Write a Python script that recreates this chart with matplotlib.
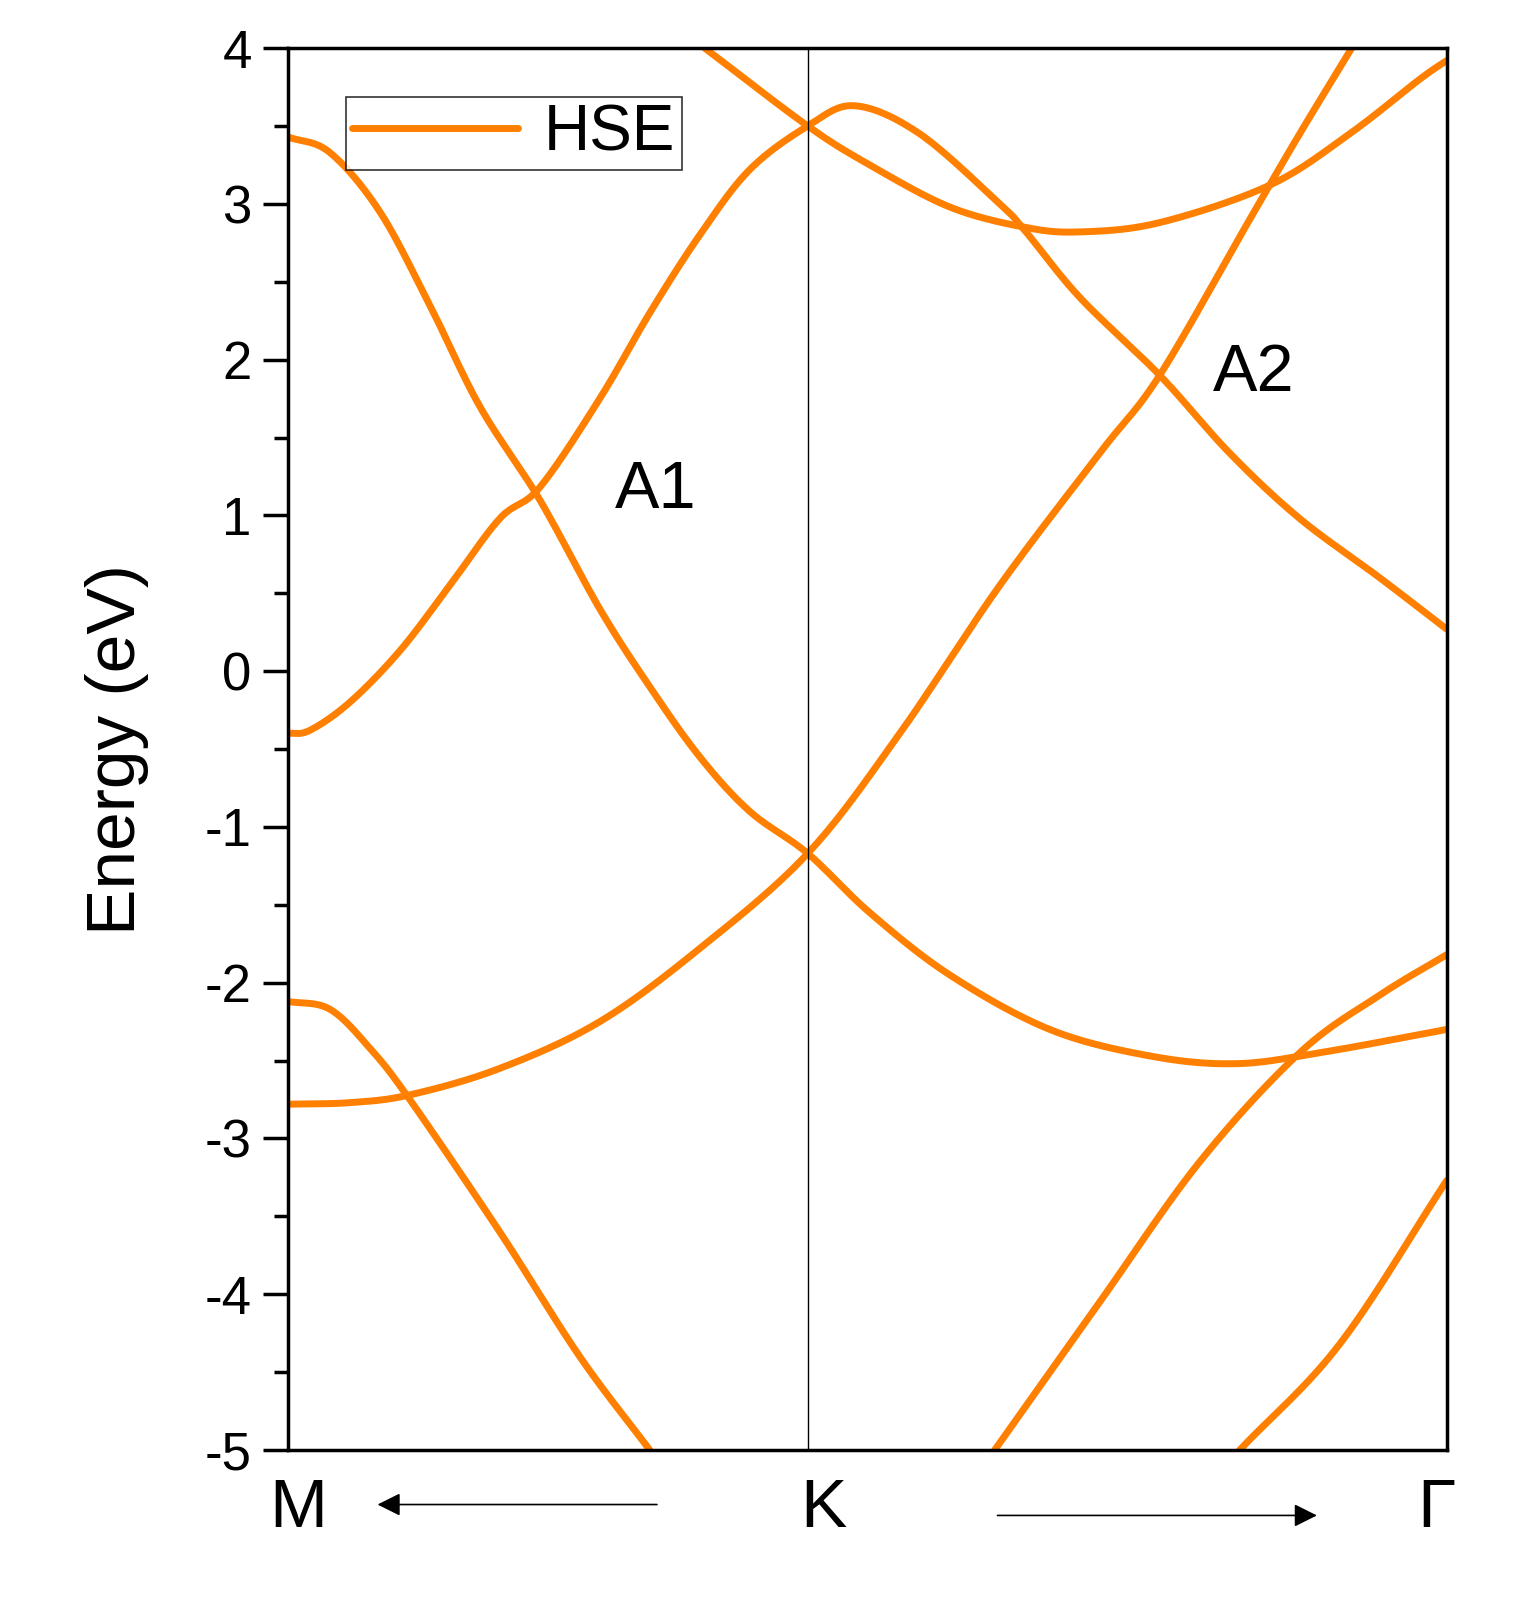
import matplotlib
matplotlib.use("Agg")
import matplotlib.pyplot as plt
import numpy as np

plt.rcParams['font.family'] = ['Liberation Sans', 'DejaVu Sans']
plt.rcParams['axes.unicode_minus'] = False

# k-path positions (pixel-derived: M=0, K=1, Gamma=2.229)
def k(px):
    return (np.array(px) - 288) / 520.0

bands = [
    (k([288, 310, 350, 400, 450, 500, 540, 600, 650, 700, 750, 808, 855, 920, 1000, 1025, 1080, 1160, 1230, 1300, 1380, 1447]),
     [-0.40, -0.38, -0.2, 0.13, 0.55, 0.98, 1.18, 1.75, 2.3, 2.8, 3.22, 3.5, 3.63, 3.45, 3.0, 2.83, 2.4, 1.9, 1.4, 0.98, 0.6, 0.27]),
    (k([288, 330, 380, 430, 480, 540, 600, 650, 700, 750, 808, 870, 950, 1050, 1150, 1235, 1320, 1447]),
     [3.43, 3.33, 2.95, 2.35, 1.7, 1.1, 0.4, -0.1, -0.55, -0.9, -1.17, -1.55, -1.95, -2.3, -2.47, -2.52, -2.45, -2.3]),
    (k([288, 350, 410, 500, 600, 700, 808, 900, 1000, 1100, 1160, 1250, 1300, 1352]),
     [-2.78, -2.77, -2.72, -2.55, -2.25, -1.78, -1.17, -0.4, 0.55, 1.4, 1.9, 2.9, 3.45, 4.0]),
    (k([705, 808, 870, 950, 1025, 1080, 1160, 1270, 1350, 1420, 1447]),
     [4.0, 3.5, 3.25, 2.98, 2.85, 2.82, 2.88, 3.12, 3.45, 3.8, 3.92]),
    (k([288, 330, 370, 410, 500, 580, 650]),
     [-2.12, -2.17, -2.42, -2.75, -3.6, -4.4, -5.0]),
    (k([995, 1100, 1200, 1300, 1380, 1447]),
     [-5.0, -4.05, -3.15, -2.45, -2.08, -1.82]),
    (k([1240, 1340, 1447]),
     [-5.0, -4.32, -3.27]),
]

kpts = [0, 1, k(1447)]
klabels = ['M', 'K', 'Γ']
color = '#FF8000'

def smooth(x, y, n=20):
    # Catmull-Rom rendering between given points (passes through every point)
    x = np.asarray(x, float); y = np.asarray(y, float)
    P = np.column_stack([x, y])
    P = np.vstack([2 * P[0] - P[1], P, 2 * P[-1] - P[-2]])
    out = []
    t = np.linspace(0, 1, n, endpoint=False)[:, None]
    for i in range(1, len(P) - 2):
        p0, p1, p2, p3 = P[i - 1], P[i], P[i + 1], P[i + 2]
        seg = 0.5 * ((2 * p1) + (-p0 + p2) * t + (2 * p0 - 5 * p1 + 4 * p2 - p3) * t ** 2
                     + (-p0 + 3 * p1 - 3 * p2 + p3) * t ** 3)
        out.append(seg)
    out.append(P[-2][None, :])
    out = np.vstack(out)
    return out[:, 0], out[:, 1]

fig = plt.figure(figsize=(15.39, 16.04), dpi=100)
ax = fig.add_axes([0.187, 0.096, 0.753, 0.874])
for i, (x, y) in enumerate(bands):
    sx, sy = smooth(x, y)
    ax.plot(sx, sy, color=color, lw=5, solid_capstyle='round', label='HSE' if i == 0 else None)
ax.axvline(1, color='black', lw=1)
ax.set_xlim(0, kpts[2])
ax.set_ylim(-5, 4)
ax.set_yticks(range(-5, 5))
ax.set_yticks(np.arange(-4.5, 4, 1), minor=True)
ax.tick_params(axis='y', which='major', length=18, width=2.5, labelsize=38, direction='out', right=False, pad=8)
ax.tick_params(axis='y', which='minor', length=10, width=2.5, direction='out')
ax.set_xticks([])
for s in ax.spines.values():
    s.set_linewidth(2.5)
ax.set_ylabel('Energy (eV)', fontsize=50, labelpad=40)
offs = {'M': 0.02, 'K': 0.03, 'Γ': -0.02}
for xv, lab in zip(kpts, klabels):
    ax.text(xv + offs[lab], -5.38, lab, fontsize=50, ha='center', va='center')
ax.annotate('', xy=(k(375), -5.35), xytext=(k(660), -5.35),
            arrowprops=dict(arrowstyle='-|>', color='black', lw=1.2, mutation_scale=35), annotation_clip=False)
ax.annotate('', xy=(k(1320), -5.42), xytext=(k(995), -5.42),
            arrowprops=dict(arrowstyle='-|>', color='black', lw=1.2, mutation_scale=35), annotation_clip=False)
ax.text(k(615), 1.05, 'A1', fontsize=48)
ax.text(k(1213), 1.8, 'A2', fontsize=48)
leg = ax.legend(loc='upper left', bbox_to_anchor=(0.05, 0.965), fontsize=46, frameon=True,
                fancybox=False, edgecolor='black', handlelength=2.6, borderpad=0.1,
                handletextpad=0.4, borderaxespad=0)
leg.get_frame().set_linewidth(1.2)
fig.savefig('out.png', dpi=100)
